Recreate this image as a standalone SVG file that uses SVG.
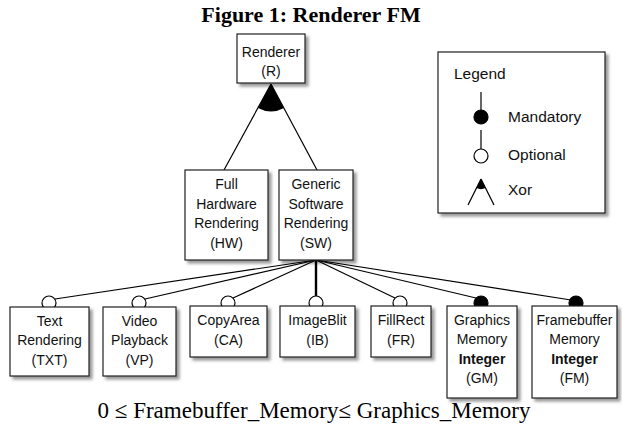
<svg xmlns="http://www.w3.org/2000/svg" width="622" height="432" viewBox="0 0 622 432">
<defs>
<filter id="sh" x="-10%" y="-10%" width="130%" height="130%">
<feDropShadow dx="3" dy="3" stdDeviation="1.5" flood-color="#000" flood-opacity="0.4"/>
</filter>
<style>
.box{fill:#fff;stroke:#222;stroke-width:1.2;filter:url(#sh)}
.t{font-family:"Liberation Sans",Arial,sans-serif;font-size:14px;fill:#111;text-anchor:middle}
.b{font-weight:bold}
.ln{stroke:#000;stroke-width:1.2;fill:none}
.opt{fill:#fff;stroke:#000;stroke-width:1.2}
.man{fill:#000;stroke:#000;stroke-width:1.2}
.lt{font-family:"Liberation Sans",Arial,sans-serif;font-size:15.5px;fill:#111}
</style>
</defs>
<rect width="622" height="432" fill="#fff"/>
<text x="311" y="22" font-family="Liberation Serif,Times New Roman,serif" font-size="22" font-weight="bold" text-anchor="middle" fill="#000">Figure 1: Renderer FM</text>

<g id="connectors">
<line class="ln" x1="271" y1="84" x2="224" y2="170"/>
<line class="ln" x1="271" y1="84" x2="317" y2="170"/>
<path d="M271,84 L258,108 A27,27 0 0,0 284,108 Z" fill="#000"/>
<line class="ln" x1="316" y1="260" x2="55" y2="299"/>
<line class="ln" x1="316" y1="260" x2="145" y2="299"/>
<line class="ln" x1="316" y1="260" x2="233" y2="298"/>
<line x1="316" y1="260" x2="316" y2="296" stroke="#000" stroke-width="2.4"/>
<line class="ln" x1="316" y1="260" x2="395" y2="298"/>
<line class="ln" x1="316" y1="260" x2="476" y2="298"/>
<line class="ln" x1="316" y1="260" x2="571" y2="300"/>
<circle class="opt" cx="49" cy="303" r="7"/>
<circle class="opt" cx="139" cy="303" r="7"/>
<circle class="opt" cx="228" cy="303" r="7"/>
<circle class="opt" cx="316" cy="303" r="7"/>
<circle class="opt" cx="400" cy="303" r="7"/>
<circle class="man" cx="481" cy="303" r="7"/>
<circle class="man" cx="576" cy="303" r="7"/>
</g>

<g id="R">
<rect class="box" x="237" y="34" width="68" height="49"/>
<text class="t" x="271" y="57">Renderer</text>
<text class="t" x="271" y="76">(R)</text>
</g>
<g id="HW">
<rect class="box" x="185" y="170" width="83" height="90"/>
<text class="t" x="226.5" y="189">Full</text>
<text class="t" x="226.5" y="209">Hardware</text>
<text class="t" x="226.5" y="228">Rendering</text>
<text class="t" x="226.5" y="248">(HW)</text>
</g>
<g id="SW">
<rect class="box" x="279" y="170" width="74" height="90"/>
<text class="t" x="316" y="189">Generic</text>
<text class="t" x="316" y="209">Software</text>
<text class="t" x="316" y="228">Rendering</text>
<text class="t" x="316" y="248">(SW)</text>
</g>
<g id="TXT">
<rect class="box" x="10" y="307" width="79" height="69"/>
<text class="t" x="49.5" y="326">Text</text>
<text class="t" x="49.5" y="345">Rendering</text>
<text class="t" x="49.5" y="365">(TXT)</text>
</g>
<g id="VP">
<rect class="box" x="103" y="307" width="73" height="69"/>
<text class="t" x="139.5" y="326">Video</text>
<text class="t" x="139.5" y="345">Playback</text>
<text class="t" x="139.5" y="365">(VP)</text>
</g>
<g id="CA">
<rect class="box" x="190" y="306" width="77" height="51"/>
<text class="t" x="228.5" y="325">CopyArea</text>
<text class="t" x="228.5" y="345">(CA)</text>
</g>
<g id="IB">
<rect class="box" x="280" y="306" width="75" height="51"/>
<text class="t" x="317.5" y="325">ImageBlit</text>
<text class="t" x="317.5" y="345">(IB)</text>
</g>
<g id="FR">
<rect class="box" x="371" y="306" width="60" height="51"/>
<text class="t" x="401" y="325">FillRect</text>
<text class="t" x="401" y="345">(FR)</text>
</g>
<g id="GM">
<rect class="box" x="447" y="306" width="70" height="92"/>
<text class="t" x="482" y="325">Graphics</text>
<text class="t" x="482" y="344">Memory</text>
<text class="t b" x="482" y="364">Integer</text>
<text class="t" x="482" y="383">(GM)</text>
</g>
<g id="FM">
<rect class="box" x="532" y="306" width="85" height="92"/>
<text class="t" x="574.5" y="325">Framebuffer</text>
<text class="t" x="574.5" y="344">Memory</text>
<text class="t b" x="574.5" y="364">Integer</text>
<text class="t" x="574.5" y="383">(FM)</text>
</g>

<g id="legend">
<rect class="box" x="438" y="52" width="167" height="161"/>
<text class="lt" x="454" y="79">Legend</text>
<line class="ln" x1="481" y1="92" x2="481" y2="110"/>
<circle class="man" cx="481" cy="117" r="7"/>
<text class="lt" x="508" y="122">Mandatory</text>
<line class="ln" x1="481" y1="130" x2="481" y2="149"/>
<circle class="opt" cx="481" cy="156" r="7"/>
<text class="lt" x="508" y="160">Optional</text>
<line class="ln" x1="481" y1="179" x2="468" y2="205"/>
<line class="ln" x1="481" y1="179" x2="494" y2="205"/>
<path d="M481,179 L476.5,188 A10,10 0 0,0 485.5,188 Z" fill="#000"/>
<text class="lt" x="508" y="195">Xor</text>
</g>

<text x="314" y="418" font-family="Liberation Serif,Times New Roman,serif" font-size="23" text-anchor="middle" fill="#000">0 ≤ Framebuffer_Memory≤ Graphics_Memory</text>
</svg>
